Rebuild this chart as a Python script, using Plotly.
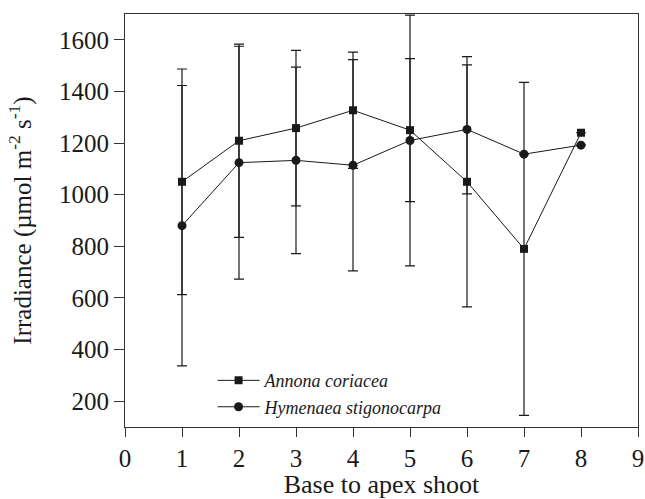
import plotly.graph_objects as go

positions = [1, 2, 3, 4, 5, 6, 7, 8]
annona = [1050, 1209, 1258, 1327, 1250, 1050, 790, 1240]
annona_err = [437, 374, 301, 225, 277, 485, 645, 0]
hymenaea = [880, 1124, 1133, 1114, 1210, 1253, 1157, 1192]
hymenaea_err = [543, 451, 361, 409, 486, 250, 0, 0]
x_ticks = list(range(0, 10))
y_ticks = [200, 400, 600, 800, 1000, 1200, 1400, 1600]

INK = "#1a1a1a"
FONT = "Liberation Serif"

fig = go.Figure()
fig.add_trace(go.Scatter(
    x=positions, y=annona, name="<i>Annona coriacea</i>",
    mode="lines+markers",
    line=dict(color=INK, width=1),
    marker=dict(symbol="square", size=8, color=INK),
    error_y=dict(type="data", array=annona_err, visible=True,
                 color=INK, thickness=1.2, width=5),
))
fig.add_trace(go.Scatter(
    x=positions, y=hymenaea, name="<i>Hymenaea stigonocarpa</i>",
    mode="lines+markers",
    line=dict(color=INK, width=1),
    marker=dict(symbol="circle", size=9, color=INK),
    error_y=dict(type="data", array=hymenaea_err, visible=True,
                 color=INK, thickness=1.2, width=5),
))

fig.update_layout(
    width=645, height=499,
    margin=dict(l=125, r=7, t=14, b=72),
    paper_bgcolor="white", plot_bgcolor="white",
    font=dict(family=FONT, color=INK, size=25),
    showlegend=True,
    legend=dict(x=0.1707, y=0.157, xanchor="left", yanchor="top",
                bgcolor="rgba(0,0,0,0)",
                font=dict(family=FONT, size=18, color=INK),
                tracegroupgap=0, itemwidth=42),
)
fig.update_xaxes(
    range=[0, 9], tickvals=x_ticks, ticktext=[str(t) for t in x_ticks],
    ticks="outside", ticklen=9, tickcolor="#333", tickwidth=1,
    showline=True, linecolor="#333", linewidth=1, mirror=True,
    showgrid=False, zeroline=False, automargin=False,
    title=dict(text="Base to apex shoot", font=dict(size=26), standoff=4),
    tickfont=dict(size=25),
)
fig.update_yaxes(
    range=[100, 1700], tickvals=y_ticks, ticktext=[str(t) for t in y_ticks],
    ticks="outside", ticklen=10, tickcolor="#333", tickwidth=1,
    showline=True, linecolor="#333", linewidth=1, mirror=True,
    showgrid=False, zeroline=False, automargin=False,
    title=dict(text="Irradiance (µmol m<sup>-2</sup> s<sup>-1</sup>)", font=dict(size=25), standoff=20),
    tickfont=dict(size=25),
)

fig.write_html("out.html", config={"displayModeBar": False},
               post_script="document.body.style.margin='0';document.body.style.overflow='hidden';")
